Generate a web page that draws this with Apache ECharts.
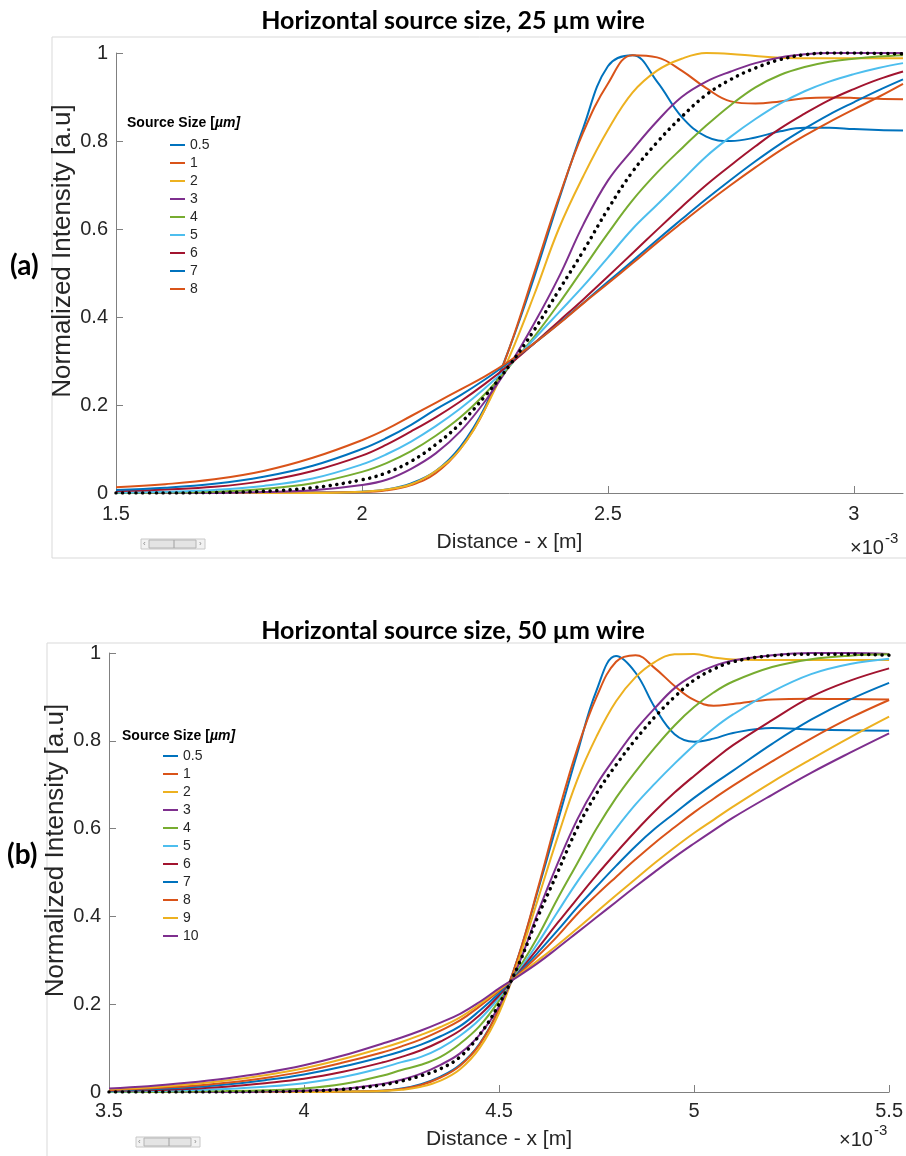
<!DOCTYPE html>
<html>
<head>
<meta charset="utf-8">
<script src="https://cdn.jsdelivr.net/npm/echarts@6/dist/echarts.min.js"></script>
<style>
  html, body { margin: 0; padding: 0; background: #fff; }
  #chart { width: 906px; height: 1156px; }
</style>
</head>
<body>
<div id="chart"></div>
<script>
// Panel (a): 25 um wire, x in units of 1e-3 m
const xsA = [1.5, 1.6, 1.7, 1.8, 1.9, 2.0, 2.05, 2.1, 2.15, 2.2, 2.25, 2.3, 2.35, 2.4, 2.45,
  2.5, 2.55, 2.6, 2.65, 2.7, 2.75, 2.8, 2.85, 2.9, 2.95, 3.0, 3.05, 3.1];
const a05 = [0, 0, 0, 0, 0.001, 0.003, 0.008, 0.022, 0.05, 0.105, 0.195, 0.33, 0.49, 0.665, 0.83,
  0.97, 0.995, 0.935, 0.855, 0.81, 0.8, 0.808, 0.822, 0.83, 0.83, 0.827, 0.825, 0.824];
const a1 = [0, 0, 0, 0, 0.001, 0.002, 0.006, 0.018, 0.045, 0.1, 0.19, 0.33, 0.5, 0.67, 0.82,
  0.93, 0.995, 0.99, 0.96, 0.92, 0.89, 0.885, 0.89, 0.897, 0.899, 0.898, 0.896, 0.895];
const a2 = [0, 0, 0, 0, 0, 0.003, 0.008, 0.02, 0.05, 0.1, 0.19, 0.31, 0.45, 0.6, 0.72,
  0.825, 0.91, 0.96, 0.987, 1.0, 0.998, 0.993, 0.989, 0.988, 0.988, 0.988, 0.988, 0.988];
const a3 = [0, 0, 0, 0.002, 0.006, 0.018, 0.03, 0.055, 0.09, 0.14, 0.208, 0.29, 0.385, 0.49, 0.61,
  0.71, 0.78, 0.845, 0.9, 0.935, 0.958, 0.977, 0.99, 0.997, 1.0, 1.0, 1.0, 1.0];
const a4 = [0, 0.001, 0.003, 0.009, 0.022, 0.048, 0.068, 0.095, 0.13, 0.172, 0.225, 0.288, 0.355, 0.43, 0.51,
  0.59, 0.665, 0.728, 0.783, 0.835, 0.882, 0.922, 0.95, 0.968, 0.98, 0.987, 0.992, 0.995];
const a5 = [0.001, 0.003, 0.007, 0.016, 0.033, 0.065, 0.088, 0.117, 0.152, 0.192, 0.238, 0.29, 0.35, 0.41, 0.47,
  0.535, 0.6, 0.655, 0.71, 0.765, 0.81, 0.85, 0.885, 0.913, 0.935, 0.952, 0.966, 0.977];
const a6 = [0.004, 0.008, 0.014, 0.027, 0.05, 0.085, 0.11, 0.14, 0.172, 0.208, 0.248, 0.292, 0.34, 0.39, 0.44,
  0.492, 0.545, 0.598, 0.65, 0.7, 0.745, 0.788, 0.828, 0.862, 0.893, 0.918, 0.94, 0.958];
const a7 = [0.007, 0.012, 0.021, 0.037, 0.062, 0.1, 0.125, 0.155, 0.19, 0.222, 0.258, 0.298, 0.34, 0.385, 0.432,
  0.48, 0.527, 0.575, 0.622, 0.668, 0.712, 0.754, 0.793, 0.828, 0.86, 0.888, 0.915, 0.94];
const a8 = [0.013, 0.02, 0.031, 0.05, 0.08, 0.12, 0.145, 0.175, 0.205, 0.235, 0.265, 0.3, 0.34, 0.384, 0.431,
  0.476, 0.522, 0.569, 0.614, 0.658, 0.7, 0.74, 0.778, 0.812, 0.843, 0.872, 0.9, 0.93];
const aRef = [0, 0, 0.001, 0.004, 0.012, 0.03, 0.046, 0.072, 0.11, 0.158, 0.22, 0.29, 0.37, 0.46, 0.55,
  0.645, 0.73, 0.797, 0.855, 0.905, 0.94, 0.966, 0.985, 0.996, 1.0, 1.0, 0.999, 0.998];

// Panel (b): 50 um wire
const xsB = [3.5, 3.6, 3.7, 3.8, 3.9, 4.0, 4.1, 4.2, 4.25, 4.3, 4.35, 4.4, 4.45, 4.5, 4.55,
  4.6, 4.65, 4.7, 4.75, 4.8, 4.85, 4.9, 4.95, 5.0, 5.05, 5.1, 5.2, 5.3, 5.4, 5.5];
const b05 = [0, 0, 0, 0, 0, 0, 0.001, 0.003, 0.008, 0.018, 0.035, 0.062, 0.11, 0.19, 0.31,
  0.46, 0.615, 0.77, 0.915, 0.993, 0.955, 0.875, 0.815, 0.798, 0.805, 0.818, 0.829, 0.826, 0.824, 0.823];
const b1 = [0, 0, 0, 0, 0, 0, 0.001, 0.003, 0.007, 0.016, 0.033, 0.06, 0.108, 0.19, 0.31,
  0.465, 0.63, 0.78, 0.9, 0.98, 0.995, 0.965, 0.925, 0.893, 0.88, 0.884, 0.894, 0.896, 0.895, 0.894];
const b2 = [0, 0, 0, 0, 0, 0, 0.001, 0.002, 0.005, 0.012, 0.026, 0.052, 0.1, 0.18, 0.3,
  0.44, 0.58, 0.71, 0.81, 0.89, 0.945, 0.98, 0.997, 0.998, 0.99, 0.985, 0.984, 0.984, 0.984, 0.984];
const b3 = [0, 0, 0, 0, 0.001, 0.003, 0.007, 0.018, 0.028, 0.042, 0.062, 0.088, 0.13, 0.195, 0.29,
  0.41, 0.52, 0.62, 0.7, 0.765, 0.825, 0.875, 0.92, 0.95, 0.97, 0.983, 0.995, 1.0, 1.0, 0.998];
const b4 = [0, 0, 0.001, 0.002, 0.004, 0.008, 0.018, 0.037, 0.05, 0.062, 0.08, 0.11, 0.15, 0.208, 0.28,
  0.355, 0.44, 0.52, 0.6, 0.67, 0.73, 0.785, 0.835, 0.877, 0.91, 0.935, 0.968, 0.986, 0.994, 0.997];
const b5 = [0.001, 0.002, 0.004, 0.007, 0.012, 0.02, 0.034, 0.055, 0.068, 0.08, 0.1, 0.128, 0.165, 0.215, 0.275,
  0.34, 0.41, 0.478, 0.54, 0.6, 0.655, 0.703, 0.748, 0.79, 0.828, 0.86, 0.912, 0.952, 0.975, 0.987];
const b6 = [0.002, 0.004, 0.007, 0.012, 0.02, 0.03, 0.046, 0.067, 0.08, 0.095, 0.115, 0.14, 0.175, 0.22, 0.272,
  0.328, 0.385, 0.44, 0.494, 0.545, 0.594, 0.64, 0.682, 0.72, 0.756, 0.79, 0.847, 0.9, 0.937, 0.965];
const b7 = [0.003, 0.006, 0.01, 0.017, 0.027, 0.04, 0.058, 0.08, 0.093, 0.108, 0.127, 0.15, 0.185, 0.225, 0.27,
  0.318, 0.368, 0.42, 0.468, 0.515, 0.56, 0.6, 0.635, 0.67, 0.702, 0.732, 0.793, 0.848, 0.894, 0.932];
const b8 = [0.004, 0.008, 0.013, 0.021, 0.032, 0.047, 0.067, 0.09, 0.104, 0.12, 0.14, 0.163, 0.195, 0.23, 0.268,
  0.31, 0.355, 0.405, 0.449, 0.49, 0.53, 0.568, 0.603, 0.637, 0.668, 0.698, 0.753, 0.805, 0.852, 0.893];
const b9 = [0.006, 0.01, 0.017, 0.026, 0.038, 0.054, 0.075, 0.1, 0.114, 0.13, 0.148, 0.17, 0.2, 0.233, 0.266,
  0.3, 0.335, 0.372, 0.41, 0.448, 0.485, 0.522, 0.557, 0.59, 0.62, 0.65, 0.706, 0.758, 0.808, 0.855];
const b10 = [0.008, 0.013, 0.021, 0.031, 0.044, 0.061, 0.083, 0.11, 0.124, 0.14, 0.158, 0.178, 0.205, 0.236, 0.264,
  0.294, 0.328, 0.363, 0.398, 0.433, 0.468, 0.502, 0.535, 0.566, 0.596, 0.625, 0.677, 0.727, 0.773, 0.817];
const bRef = [0, 0, 0, 0, 0.001, 0.002, 0.006, 0.016, 0.025, 0.037, 0.053, 0.08, 0.13, 0.2, 0.29,
  0.4, 0.5, 0.6, 0.68, 0.745, 0.803, 0.855, 0.9, 0.938, 0.963, 0.98, 0.994, 0.997, 0.997, 0.995];

const namesA = ["0.5", "1", "2", "3", "4", "5", "6", "7", "8"];
const namesB = ["0.5", "1", "2", "3", "4", "5", "6", "7", "8", "9", "10"];
const colors = ["#0072BD", "#D95319", "#EDB120", "#7E2F8E", "#77AC30", "#4DBEEE", "#A2142F"];

const fontSans = '"Liberation Sans", Arial, sans-serif';
const fontTitle = 'Lato, "Open Sans", sans-serif';

function curve(name, xs, ys, color, idx) {
  return {
    name: name,
    type: "line",
    xAxisIndex: idx,
    yAxisIndex: idx,
    data: xs.map((x, i) => [x, ys[i]]),
    smooth: 0.4,
    symbol: "none",
    lineStyle: { width: 2, color: color },
    itemStyle: { color: color },
  };
}

function refCurve(xs, ys, idx) {
  return {
    name: "reference",
    type: "line",
    xAxisIndex: idx,
    yAxisIndex: idx,
    data: xs.map((x, i) => [x, ys[i]]),
    smooth: 0.4,
    symbol: "none",
    z: 3,
    lineStyle: { width: 3.5, color: "#000", type: [0.1, 6.6], cap: "round" },
    itemStyle: { color: "#000" },
  };
}

function xAxis(idx, min, max, nameGap, margin) {
  return {
    type: "value",
    gridIndex: idx,
    min: min,
    max: max,
    interval: 0.5,
    name: "Distance - x [m]",
    nameLocation: "middle",
    nameGap: nameGap,
    nameTextStyle: { fontFamily: fontSans, fontSize: 21, color: "#262626" },
    axisLine: { show: true, onZero: false, lineStyle: { color: "#808080", width: 1 } },
    axisTick: { show: true, inside: true, length: 7, lineStyle: { color: "#808080" } },
    axisLabel: {
      fontFamily: fontSans,
      fontSize: 20,
      color: "#262626",
      margin: margin,
      showMaxLabel: idx === 1,
    },
    splitLine: { show: false },
  };
}

function yAxis(idx) {
  return {
    type: "value",
    gridIndex: idx,
    min: 0,
    max: 1,
    interval: 0.2,
    name: "Normalized Intensity [a.u]",
    nameLocation: "middle",
    nameGap: 40,
    nameMoveOverlap: false,
    nameTextStyle: { fontFamily: fontSans, fontSize: 26, color: "#262626", padding: [0, 0, 0, 44] },
    axisLine: { show: true, onZero: false, lineStyle: { color: "#808080", width: 1 } },
    axisTick: { show: true, inside: true, length: 7, lineStyle: { color: "#808080" } },
    axisLabel: { fontFamily: fontSans, fontSize: 20, color: "#262626", margin: 8 },
    splitLine: { show: false },
  };
}

function legend(names, left, top) {
  return {
    data: names,
    orient: "vertical",
    left: left,
    top: top,
    icon: "rect",
    itemWidth: 15,
    itemHeight: 2,
    itemGap: 0,
    selectedMode: false,
    textStyle: { fontFamily: fontSans, fontSize: 14, color: "#262626", lineHeight: 18 },
  };
}

const seriesA = [a05, a1, a2, a3, a4, a5, a6, a7, a8].map((ys, i) =>
  curve(namesA[i], xsA, ys, colors[i % 7], 0)
);
const seriesB = [b05, b1, b2, b3, b4, b5, b6, b7, b8, b9, b10].map((ys, i) =>
  curve(namesB[i], xsB, ys, colors[i % 7], 1)
);

function frame(x, y, w, h) {
  return [
    { type: "line", shape: { x1: x, y1: y, x2: x + w, y2: y }, style: { stroke: "#d9d9d9", lineWidth: 1 } },
    { type: "line", shape: { x1: x, y1: y, x2: x, y2: y + h }, style: { stroke: "#d9d9d9", lineWidth: 1 } },
  ];
}

function scrollGlyph(x, y) {
  return [
    { type: "rect", shape: { x: x, y: y, width: 64, height: 10 }, style: { fill: "#f2f2f2", stroke: "#c8c8c8", lineWidth: 1 } },
    { type: "rect", shape: { x: x + 8, y: y + 1, width: 47, height: 8 }, style: { fill: "#e4e4e4", stroke: "#b4b4b4", lineWidth: 1 } },
    { type: "line", shape: { x1: x + 33, y1: y + 1, x2: x + 33, y2: y + 9 }, style: { stroke: "#a0a0a0", lineWidth: 1 } },
    { type: "text", x: x + 2, y: y + 1, style: { text: "\u2039", font: "8px sans-serif", fill: "#888" } },
    { type: "text", x: x + 58, y: y + 1, style: { text: "\u203a", font: "8px sans-serif", fill: "#888" } },
  ];
}

function legendTitle(x, y) {
  return {
    type: "text",
    x: x,
    y: y,
    style: {
      text: "{b|Source Size [}{i|\u00b5m]}",
      rich: {
        b: { fontFamily: fontSans, fontSize: 14, fontWeight: "bold", fill: "#000" },
        i: { fontFamily: fontSans, fontSize: 14, fontWeight: "bold", fontStyle: "italic", fill: "#000" },
      },
      verticalAlign: "middle",
    },
  };
}

function exponent(x, y) {
  return [
    { type: "text", x: x, y: y, style: { text: "\u00d710", font: "20px " + fontSans, fill: "#262626", verticalAlign: "middle" } },
    { type: "text", x: x + 35, y: y - 9, style: { text: "-3", font: "15px " + fontSans, fill: "#262626", verticalAlign: "middle" } },
  ];
}

const chart = echarts.init(document.getElementById("chart"), null, { renderer: "canvas" });

const option = {
  backgroundColor: "#fff",
  animation: false,
  title: [
    {
      text: "Horizontal source size, 25 \u00b5m wire",
      left: "center",
      top: 3,
      textStyle: { fontFamily: fontTitle, fontWeight: "bold", fontSize: 25, color: "#000" },
    },
    {
      text: "Horizontal source size, 50 \u00b5m wire",
      left: "center",
      top: 613,
      textStyle: { fontFamily: fontTitle, fontWeight: "bold", fontSize: 25, color: "#000" },
    },
  ],
  grid: [
    { left: 116, top: 53, width: 787, height: 440 },
    { left: 109, top: 653, width: 781, height: 439 },
  ],
  xAxis: [xAxis(0, 1.5, 3.1, 39, 11), xAxis(1, 3.5, 5.5, 37, 9)],
  yAxis: [yAxis(0), yAxis(1)],
  legend: [legend(namesA, 165, 131), legend(namesB, 158, 742)],
  series: [...seriesA, refCurve(xsA, aRef, 0), ...seriesB, refCurve(xsB, bRef, 1)],
  graphic: [
    ...frame(52, 37, 860, 521),
    { type: "line", shape: { x1: 52, y1: 558, x2: 906, y2: 558 }, style: { stroke: "#d9d9d9", lineWidth: 1 } },
    ...frame(47, 643, 860, 520),
    { type: "text", x: 10, y: 266, style: { text: "(a)", font: "bold 28px " + fontTitle, fill: "#000", verticalAlign: "middle" } },
    { type: "text", x: 7, y: 855, style: { text: "(b)", font: "bold 28px " + fontTitle, fill: "#000", verticalAlign: "middle" } },
    legendTitle(127, 123),
    legendTitle(122, 736),
    ...exponent(850, 548),
    ...exponent(839, 1140),
    ...scrollGlyph(141, 539),
    ...scrollGlyph(136, 1137),
  ],
};

chart.setOption(option);
</script>
</body>
</html>
